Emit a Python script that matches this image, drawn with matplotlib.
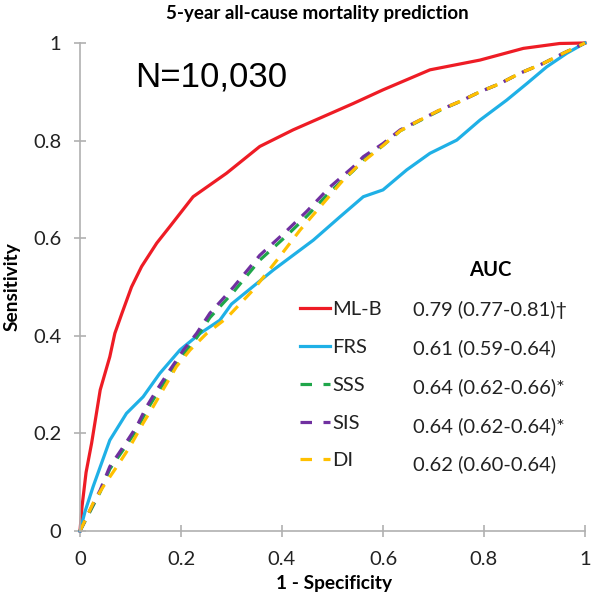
import matplotlib
matplotlib.use("Agg")
import matplotlib.pyplot as plt
from matplotlib.lines import Line2D

# ROC curves
mlb_fpr = [0, 0.004, 0.012, 0.023, 0.04, 0.059, 0.069, 0.083, 0.102, 0.122, 0.152, 0.178,
           0.224, 0.29, 0.356, 0.422, 0.541, 0.60, 0.693, 0.792, 0.878, 0.95, 1.0]
mlb_tpr = [0, 0.05, 0.12, 0.18, 0.289, 0.357, 0.405, 0.446, 0.50, 0.542, 0.59, 0.624,
           0.685, 0.733, 0.788, 0.822, 0.876, 0.904, 0.945, 0.965, 0.989, 0.999, 1.0]

frs_fpr = [0, 0.01, 0.026, 0.059, 0.092, 0.125, 0.158, 0.198, 0.238, 0.277, 0.30, 0.383,
           0.462, 0.515, 0.561, 0.60, 0.647, 0.693, 0.746, 0.792, 0.845, 0.885, 0.924, 0.964, 1.0]
frs_tpr = [0, 0.04, 0.091, 0.186, 0.241, 0.275, 0.323, 0.371, 0.405, 0.432, 0.465, 0.535,
           0.596, 0.644, 0.685, 0.699, 0.74, 0.774, 0.801, 0.842, 0.883, 0.917, 0.951, 0.979, 1.0]

sis_fpr = [0, 0.02, 0.04, 0.059, 0.086, 0.112, 0.132, 0.152, 0.178, 0.205, 0.231, 0.257,
           0.304, 0.356, 0.409, 0.449, 0.495, 0.541, 0.561, 0.60, 0.634, 0.673, 0.713, 0.752,
           0.792, 0.832, 0.871, 0.917, 0.957, 1.0]
sis_tpr = [0, 0.043, 0.084, 0.132, 0.173, 0.214, 0.255, 0.289, 0.33, 0.371, 0.405, 0.446,
           0.50, 0.565, 0.615, 0.655, 0.705, 0.746, 0.767, 0.794, 0.822, 0.842, 0.863, 0.88,
           0.90, 0.917, 0.938, 0.958, 0.979, 1.0]

sss_fpr = [0, 0.02, 0.04, 0.059, 0.086, 0.112, 0.132, 0.152, 0.178, 0.205, 0.231, 0.257,
           0.304, 0.356, 0.409, 0.449, 0.495, 0.541, 0.561, 0.60, 0.634, 0.673, 0.713, 0.752,
           0.792, 0.832, 0.871, 0.917, 0.957, 1.0]
sss_tpr = [0, 0.04, 0.08, 0.127, 0.167, 0.207, 0.247, 0.281, 0.322, 0.362, 0.396, 0.437,
           0.49, 0.555, 0.605, 0.645, 0.695, 0.738, 0.76, 0.79, 0.82, 0.841, 0.862, 0.88,
           0.90, 0.917, 0.938, 0.958, 0.979, 1.0]

di_fpr = [0, 0.026, 0.046, 0.073, 0.099, 0.125, 0.145, 0.172, 0.191, 0.218, 0.251, 0.29,
          0.343, 0.39, 0.436, 0.482, 0.521, 0.548, 0.60, 0.634, 0.673, 0.713, 0.752, 0.792,
          0.832, 0.871, 0.917, 0.957, 1.0]
di_tpr = [0, 0.057, 0.091, 0.132, 0.173, 0.221, 0.255, 0.303, 0.337, 0.371, 0.405, 0.436,
          0.494, 0.555, 0.617, 0.672, 0.719, 0.746, 0.79, 0.82, 0.842, 0.863, 0.88, 0.90,
          0.917, 0.938, 0.958, 0.979, 1.0]

model_names = ["ML-B", "FRS", "SSS", "SIS", "DI"]
auc_labels = ["0.79 (0.77-0.81)\u2020", "0.61 (0.59-0.64)", "0.64 (0.62-0.66)*",
              "0.64 (0.62-0.64)*", "0.62 (0.60-0.64)"]
tick_values = [0, 0.2, 0.4, 0.6, 0.8, 1]
tick_labels = ["0", "0.2", "0.4", "0.6", "0.8", "1"]

W, H = 593, 600


def fpos(x, y):
    # pixel position (from top left) -> figure fraction
    return x / W, 1 - y / H


fig = plt.figure(figsize=(W / 100, H / 100), dpi=100)
ax = fig.add_axes([80 / W, 1 - 531 / H, 505 / W, 488 / H])

colors = {"ML-B": "#ee1c25", "FRS": "#1fb0e6", "SSS": "#1fa64a",
          "SIS": "#7030a0", "DI": "#ffc000"}
lw = 2.3
dash = (3.6, 2.8)

ax.plot(mlb_fpr, mlb_tpr, color=colors["ML-B"], lw=lw, clip_on=False)
ax.plot(frs_fpr, frs_tpr, color=colors["FRS"], lw=lw, clip_on=False)
ax.plot(sss_fpr, sss_tpr, color=colors["SSS"], lw=lw, dashes=dash, clip_on=False)
ax.plot(sis_fpr, sis_tpr, color=colors["SIS"], lw=lw, dashes=dash, clip_on=False)
ax.plot(di_fpr, di_tpr, color=colors["DI"], lw=lw, dashes=dash, clip_on=False)

ax.set_xlim(0, 1)
ax.set_ylim(0, 1)
ax.set_xticks(tick_values)
ax.set_xticklabels(tick_labels)
ax.set_yticks(tick_values)
ax.set_yticklabels(tick_labels)
for s in ["top", "right"]:
    ax.spines[s].set_visible(False)
for s in ["left", "bottom"]:
    ax.spines[s].set_color("#b0b0b0")
    ax.spines[s].set_linewidth(1.2)
ax.tick_params(direction="inout", length=9, width=1.2, color="#b0b0b0",
               labelsize=14.5, labelcolor="#222222")
ax.tick_params(axis="y", pad=9)
ax.tick_params(axis="x", pad=10)
for lab in ax.get_xticklabels() + ax.get_yticklabels():
    lab.set_family("Lato")

# legend: line samples + model names
handles = []
for name in model_names:
    if name in ("ML-B", "FRS"):
        handles.append(Line2D([], [], color=colors[name], lw=lw))
    else:
        handles.append(Line2D([], [], color=colors[name], lw=lw, dashes=(3.6, 3.6)))
leg1 = ax.legend(handles, model_names, loc="upper left",
                 bbox_to_anchor=fpos(300, 301), bbox_transform=fig.transFigure,
                 frameon=False, borderpad=0, borderaxespad=0, handlelength=1.5,
                 handletextpad=0.1, labelspacing=1.03,
                 prop={"family": "Lato", "size": 14.5})
ax.add_artist(leg1)

# AUC column
blank = [Line2D([], [], linestyle="none") for _ in auc_labels]
leg2 = ax.legend(blank, auc_labels, loc="upper left",
                 bbox_to_anchor=fpos(413, 260), bbox_transform=fig.transFigure,
                 frameon=False, borderpad=0, borderaxespad=0, handlelength=0,
                 handletextpad=0, labelspacing=1.03, title="AUC",
                 title_fontproperties={"family": "Lato", "size": 14.5, "weight": "bold"},
                 prop={"family": "Lato", "size": 14.5})
for t in leg2.get_texts():
    t.set_color("#222222")
for t in leg1.get_texts():
    t.set_color("#222222")

fig.text(*fpos(135, 77), "N=10,030", fontsize=25, family="Liberation Sans",
         ha="left", va="center")
fig.text(*fpos(317, 13), "5-year all-cause mortality prediction", fontsize=13.5,
         family="Lato", weight="bold", ha="center", va="center")
fig.text(*fpos(12, 287), "Sensitivity", fontsize=13.8, family="Lato", weight="bold",
         rotation=90, ha="center", va="center")
fig.text(*fpos(334, 584), "1 - Specificity", fontsize=13.8, family="Lato",
         weight="bold", ha="center", va="center")

fig.savefig("out.png", dpi=100)
